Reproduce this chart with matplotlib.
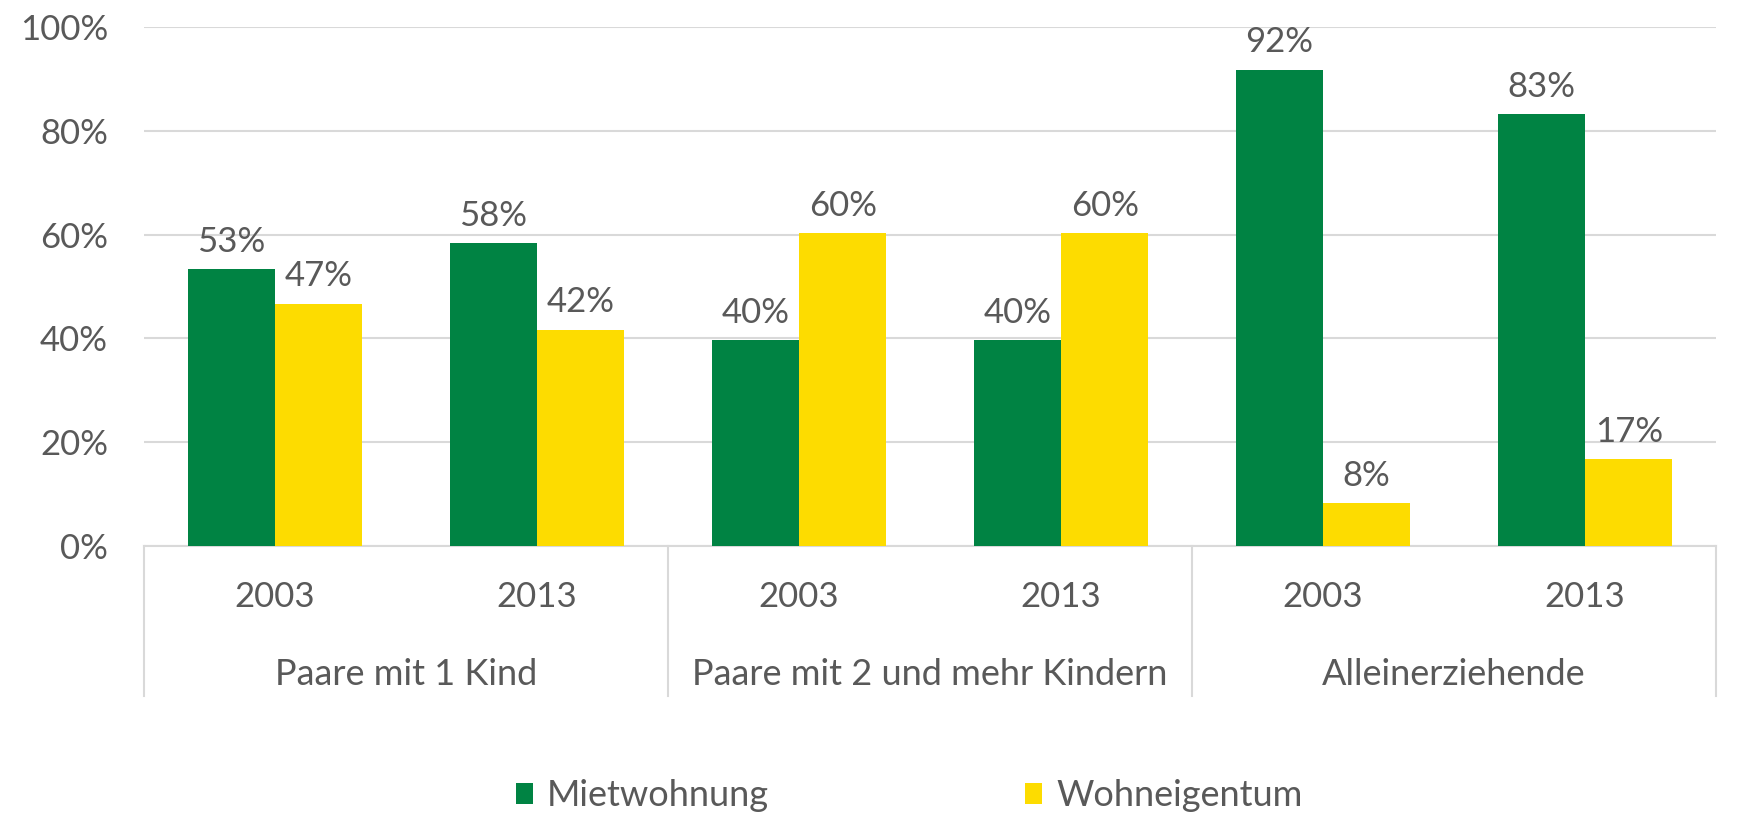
import matplotlib
matplotlib.use("Agg")
import matplotlib.pyplot as plt
import matplotlib.transforms as mtransforms
from matplotlib.patches import Patch

groups = ["Paare mit 1 Kind", "Paare mit 2 und mehr Kindern", "Alleinerziehende"]
years = ["2003", "2013", "2003", "2013", "2003", "2013"]
miet = [53.3, 58.3, 39.7, 39.7, 91.8, 83.2]
eigen = [46.7, 41.7, 60.3, 60.3, 8.2, 16.8]
series_names = ["Mietwohnung", "Wohneigentum"]
yticks = [0, 20, 40, 60, 80, 100]

GREEN = "#008343"
YELLOW = "#FDDC00"
TXT = "#595959"
GRID = "#D9D9D9"
FS_NUM = 25
FS_TXT = 26

plt.rcParams['font.family'] = ['Lato', 'DejaVu Sans']

fig = plt.figure(figsize=(17.59, 8.22), dpi=100)
ax = fig.add_axes([0.0819, 0.3358, 0.9756 - 0.0819, 0.9672 - 0.3358])

n = len(years)
bw = 1.0 / 3
xs = [i + 0.5 for i in range(n)]
b1 = ax.bar([x - bw / 2 for x in xs], miet, width=bw, color=GREEN, zorder=3)
b2 = ax.bar([x + bw / 2 for x in xs], eigen, width=bw, color=YELLOW, zorder=3)

for bars, vals in ((b1, miet), (b2, eigen)):
    for r, v in zip(bars, vals):
        ax.annotate(f"{round(v):d}%", (r.get_x() + r.get_width() / 2, v),
                    xytext=(0, 8), textcoords="offset points",
                    ha="center", va="bottom", fontsize=FS_NUM, color=TXT)

ax.set_xlim(0, n)
ax.set_ylim(0, 100)
ax.set_yticks(yticks)
ax.set_yticklabels([f"{t}%" for t in yticks])
ax.tick_params(axis="y", length=0, pad=26, labelsize=FS_NUM, labelcolor=TXT)
ax.set_xticks([])
ax.yaxis.grid(True, color=GRID, linewidth=1.5, zorder=0)
for s in ["top", "right", "left"]:
    ax.spines[s].set_visible(False)
ax.spines["bottom"].set_color(GRID)
ax.spines["bottom"].set_linewidth(1.5)

trans = mtransforms.blended_transform_factory(ax.transData, ax.transAxes)
for xv in [0, 2, 4, 6]:
    ax.plot([xv, xv], [0, -0.289], transform=trans, color=GRID,
            linewidth=1.5, clip_on=False)
for x, y in zip(xs, years):
    ax.text(x, -0.098, y, transform=trans, ha="center", va="center",
            fontsize=FS_NUM, color=TXT)
for g, name in enumerate(groups):
    ax.text(2 * g + 1, -0.247, name, transform=trans, ha="center",
            va="center", fontsize=FS_TXT, color=TXT)

handles = [Patch(facecolor=GREEN), Patch(facecolor=YELLOW)]
fig.legend(handles, series_names, loc="center", bbox_to_anchor=(0.517, 0.032),
           ncol=2, frameon=False, fontsize=FS_TXT, labelcolor=TXT,
           handlelength=0.47, handleheight=0.55, handletextpad=0.4,
           columnspacing=7.1)

fig.savefig("out.png", dpi=100)
